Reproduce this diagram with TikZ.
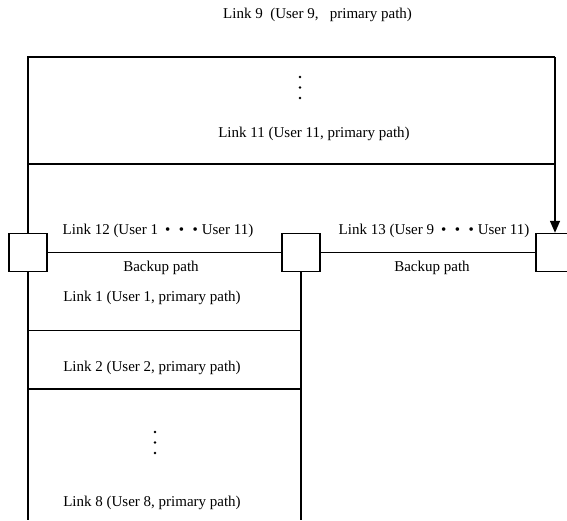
\documentclass[tikz,border=0pt]{standalone}
\usepackage{fontspec}
\setmainfont{Liberation Serif}
\usetikzlibrary{arrows.meta}
\tikzset{
  wire/.style={line width=1.5pt, line join=miter},
  switchbox/.style={draw, line width=1.5pt, fill=white, minimum size=38pt, inner sep=0pt},
  lbl/.style={inner sep=0pt, font=\fontsize{15}{18}\selectfont},
  dot/.style={fill=black}
}
\begin{document}
\begin{tikzpicture}[x=1pt, y=-1pt]
    \useasboundingbox (0,0) rectangle (567,520);

    % Switches
    \node[switchbox] (swA) at (28,252.5) {};
    \node[switchbox] (swB) at (301,252.5) {};
    \node[switchbox] (swC) at (555,252.5) {};

    % Frame corners and bottom
    \coordinate (topL) at (28,57);
    \coordinate (topR) at (555,57);
    \coordinate (midL) at (28,164);
    \coordinate (midR) at (555,164);
    \coordinate (bot) at (0,520);

    % Upper primary paths
    \draw[wire] (swA.north) -- (topL) -- (topR);
    \draw[wire, -{Triangle[length=12pt, width=10pt]}] (topR) -- (swC.north);
    \draw[wire] (midL) -- (midR);

    % Backup paths
    \draw[wire] (swA) -- (swB);
    \draw[wire] (swB) -- (swC);

    % Lower primary paths
    \draw[wire] (swA.south) -- (swA.south |- bot);
    \draw[wire] (swB.south) -- (swB.south |- bot);
    \coordinate (divA) at (28,330.5);
    \coordinate (divB) at (28,389);
    \draw[wire] (divA) -- (divA -| swB.south);
    \draw[wire] (divB) -- (divB -| swB.south);

    % Vertical dots
    \foreach \y in {77,87.5,98} \fill[dot] (300,\y) circle (1.4pt);
    \foreach \y in {432,442.5,453} \fill[dot] (155,\y) circle (1.4pt);

    % Labels
    \node[lbl, anchor=west] (link9) at (223,15) {Link 9\ \ (User 9,\ \ \ primary path)};
    \node[lbl] (link11) at (314,134) {Link 11 (User 11, primary path)};
    \node[lbl] (link12) at (158,231) {Link 12 (User 1\hspace{7pt}•\hspace{8.5pt}•\hspace{8.5pt}•\hspace{4pt}User 11)};
    \node[lbl] (backA) at (161,268) {Backup path};
    \node[lbl] (link13) at (434,231) {Link 13 (User 9\hspace{7pt}•\hspace{8.5pt}•\hspace{8.5pt}•\hspace{4pt}User 11)};
    \node[lbl] (backB) at (432,268) {Backup path};
    \node[lbl] (link1) at (152,298) {Link 1 (User 1, primary path)};
    \node[lbl] (link2) at (152,367.5) {Link 2 (User 2, primary path)};
    \node[lbl] (link8) at (152,503) {Link 8 (User 8, primary path)};
\end{tikzpicture}
\end{document}
